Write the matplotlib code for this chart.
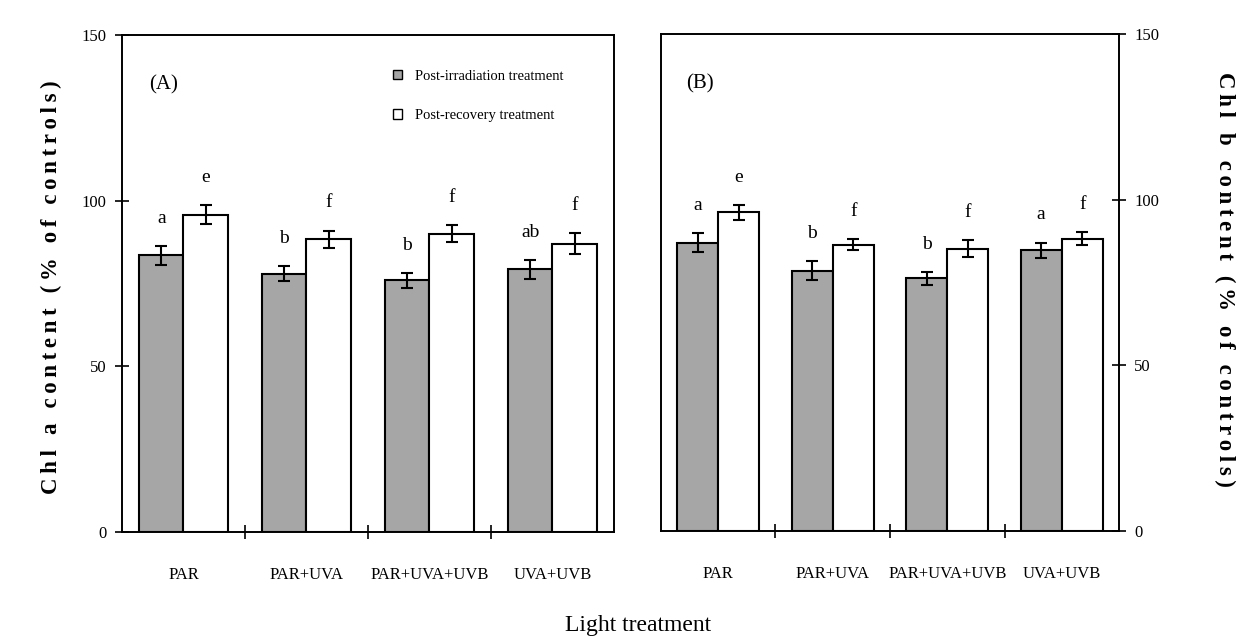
import matplotlib
matplotlib.use("Agg")
import matplotlib.pyplot as plt
from matplotlib.patches import Patch
import numpy as np

plt.rcParams["font.family"] = ["Liberation Serif", "DejaVu Serif"]

categories = ["PAR", "PAR+UVA", "PAR+UVA+UVB", "UVA+UVB"]
series_names = ["Post-irradiation treatment", "Post-recovery treatment"]

# Panel A: Chl a content (% of controls)
chla_irr = [83.5, 78.0, 76.0, 79.3]
chla_irr_err = [2.9, 2.3, 2.2, 2.9]
chla_rec = [95.8, 88.4, 90.1, 87.1]
chla_rec_err = [2.9, 2.6, 2.5, 3.1]
chla_irr_letters = ["a", "b", "b", "ab"]
chla_rec_letters = ["e", "f", "f", "f"]

# Panel B: Chl b content (% of controls)
chlb_irr = [87.1, 78.6, 76.3, 84.8]
chlb_irr_err = [2.9, 2.9, 1.9, 2.3]
chlb_rec = [96.2, 86.5, 85.3, 88.3]
chlb_rec_err = [2.3, 1.6, 2.6, 1.9]
chlb_irr_letters = ["a", "b", "b", "a"]
chlb_rec_letters = ["e", "f", "f", "f"]

yticks = [0, 50, 100, 150]
ylabel_a = "Chl a content (% of controls)"
ylabel_b = "Chl b content (% of controls)"
xlabel = "Light treatment"

GRAY = "#a6a6a6"
W = 0.36


def spaced(s):
    # widen letter spacing with thin spaces between characters
    return "\u2009".join(s)


fig = plt.figure(figsize=(12.6, 6.41), dpi=100)
axA = fig.add_axes([0.0968, 0.170, 0.3905, 0.775])
axB = fig.add_axes([0.5246, 0.1716, 0.3635, 0.775])


def draw_panel(ax, irr, irr_err, rec, rec_err, irr_lab, rec_lab, tag):
    x = np.arange(len(categories)) + 0.5
    ax.bar(x - W / 2, irr, W, color=GRAY, edgecolor="black", linewidth=1.5, zorder=2)
    ax.bar(x + W / 2, rec, W, color="white", edgecolor="black", linewidth=1.5, zorder=2)
    ax.errorbar(x - W / 2, irr, yerr=irr_err, fmt="none", ecolor="black",
                elinewidth=1.5, capsize=4, capthick=1.5, zorder=3)
    ax.errorbar(x + W / 2, rec, yerr=rec_err, fmt="none", ecolor="black",
                elinewidth=1.5, capsize=4, capthick=1.5, zorder=3)
    for xi, v, e, t in zip(x - W / 2, irr, irr_err, irr_lab):
        ax.text(xi, v + e + 7, t, ha="center", va="baseline", fontsize=14)
    for xi, v, e, t in zip(x + W / 2, rec, rec_err, rec_lab):
        ax.text(xi, v + e + 7, t, ha="center", va="baseline", fontsize=14)

    ax.set_xlim(0, len(categories))
    ax.set_ylim(0, 150)
    ax.set_xticks([1, 2, 3])
    ax.set_xticklabels([])
    ax.set_xticks(x, minor=True)
    ax.set_xticklabels(categories, minor=True, fontsize=12)
    ax.tick_params(axis="x", which="major", direction="inout", length=10, width=1.2)
    ax.tick_params(axis="x", which="minor", length=0, pad=25)
    for s in ax.spines.values():
        s.set_linewidth(1.4)
    ax.text(0.055, 0.9, tag, transform=ax.transAxes, fontsize=15,
            ha="left", va="center")


draw_panel(axA, chla_irr, chla_irr_err, chla_rec, chla_rec_err,
           chla_irr_letters, chla_rec_letters, "(A)")
draw_panel(axB, chlb_irr, chlb_irr_err, chlb_rec, chlb_rec_err,
           chlb_irr_letters, chlb_rec_letters, "(B)")

axA.set_yticks(yticks)
axA.tick_params(axis="y", direction="inout", length=10, width=1.2, labelsize=12, pad=6)

axB.yaxis.tick_right()
axB.set_yticks(yticks)
axB.tick_params(axis="y", direction="inout", length=10, width=1.2, labelsize=12, pad=6)

fig.text(51 / 1260, 1 - 287 / 641, spaced(ylabel_a), rotation=90, fontsize=16.5,
         fontweight="bold", ha="center", va="center")
fig.text(1225 / 1260, 1 - 279 / 641, spaced(ylabel_b), rotation=270, fontsize=16.5,
         fontweight="bold", ha="center", va="center")

handles = [Patch(facecolor=GRAY, edgecolor="black", linewidth=1.0),
           Patch(facecolor="white", edgecolor="black", linewidth=1.0)]
axA.legend(handles, series_names, loc="upper left", bbox_to_anchor=(0.537, 0.945),
           frameon=False, fontsize=10.5, handlelength=0.6, handleheight=0.6,
           handletextpad=0.9, labelspacing=1.8, borderpad=0)

fig.text(638 / 1260, 0.015, xlabel, ha="center", va="baseline", fontsize=17)

fig.savefig("out.png", dpi=100)
